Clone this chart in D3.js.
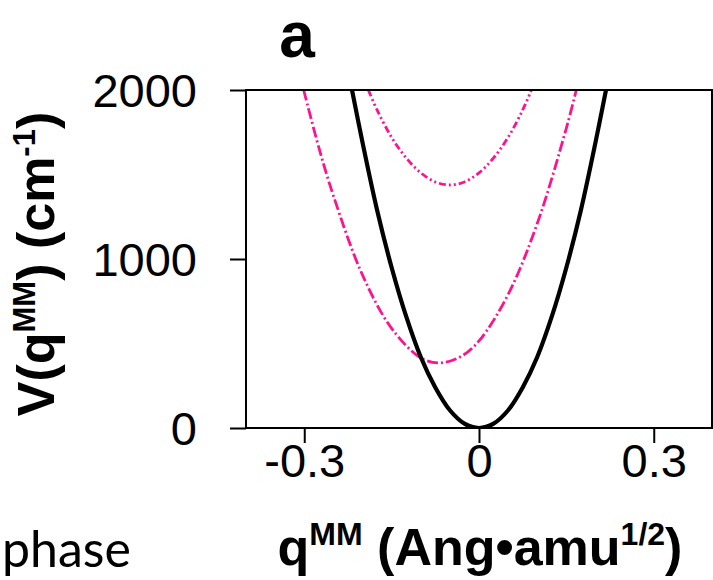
<!DOCTYPE html>
<html lang="en">
<head>
<meta charset="UTF-8">
<script src="https://cdn.jsdelivr.net/npm/d3@7"></script>
<style>
  body { margin: 0; background: #fff; }
  svg { display: block; }
</style>
</head>
<body>
<script>
// curve samples
var blackQ = [-0.218, -0.2, -0.175, -0.15, -0.125, -0.1, -0.075, -0.05, -0.025, 0, 0.025, 0.05, 0.075, 0.1, 0.125, 0.15, 0.175, 0.2, 0.218];
var blackV = [2000, 1690, 1290, 950, 660, 420, 240, 105, 26, 0, 26, 105, 240, 420, 660, 950, 1290, 1690, 2000];

var lowQ = [-0.301, -0.275, -0.25, -0.2, -0.15, -0.1, -0.067, -0.03, 0, 0.05, 0.1, 0.15, 0.167];
var lowV = [2000, 1660, 1375, 905, 590, 415, 385, 425, 515, 790, 1210, 1775, 2000];

var highQ = [-0.19, -0.175, -0.15, -0.125, -0.1, -0.075, -0.05, -0.025, 0, 0.025, 0.05, 0.075, 0.09];
var highV = [2000, 1882, 1720, 1598, 1510, 1456, 1438, 1456, 1510, 1598, 1720, 1882, 2000];

var xTicks = [-0.3, 0, 0.3];
var xTickLabels = ["-0.3", "0", "0.3"];
var yTicks = [0, 1000, 2000];

var W = 713, H = 580;
var svg = d3.select("body").append("svg")
    .attr("width", W)
    .attr("height", H);

var x = d3.scaleLinear().domain([-0.4, 0.4]).range([246, 712]);
var y = d3.scaleLinear().domain([0, 2000]).range([428, 90]);

svg.append("clipPath").attr("id", "plot")
  .append("rect")
    .attr("x", 246).attr("y", 90)
    .attr("width", 466).attr("height", 338);

var line = d3.line()
    .x(function(d){ return x(d[0]); })
    .y(function(d){ return y(d[1]); })
    .curve(d3.curveCatmullRom);

function pairs(q, v) { return q.map(function(d, i){ return [d, v[i]]; }); }

var pink = "#ff138c";
var g = svg.append("g").attr("clip-path", "url(#plot)");

g.append("path")
    .attr("d", line(pairs(highQ, highV)))
    .attr("fill", "none")
    .attr("stroke", pink)
    .attr("stroke-width", 2.8)
    .attr("stroke-dasharray", "7,3,2,3,2,3");

g.append("path")
    .attr("d", line(pairs(lowQ, lowV)))
    .attr("fill", "none")
    .attr("stroke", pink)
    .attr("stroke-width", 2.8)
    .attr("stroke-dasharray", "11,3,2,3");

g.append("path")
    .attr("d", line(pairs(blackQ, blackV)))
    .attr("fill", "none")
    .attr("stroke", "#000")
    .attr("stroke-width", 4.2);

// frame
svg.append("rect")
    .attr("x", 246).attr("y", 90)
    .attr("width", 466).attr("height", 338)
    .attr("fill", "none")
    .attr("stroke", "#000")
    .attr("stroke-width", 2);

var yAxis = d3.axisLeft(y)
    .tickValues(yTicks)
    .tickFormat(d3.format("d"))
    .tickSize(16)
    .tickPadding(33);

var xAxis = d3.axisBottom(x)
    .tickValues(xTicks)
    .tickFormat(function(d, i){ return xTickLabels[i]; })
    .tickSize(15)
    .tickPadding(34);

var ya = svg.append("g").attr("transform", "translate(246,0)").call(yAxis);
var xa = svg.append("g").attr("transform", "translate(0,428)").call(xAxis);

[ya, xa].forEach(function(a){
  a.select(".domain").remove();
  a.selectAll("line").attr("stroke", "#000").attr("stroke-width", 2);
  a.selectAll("text")
    .attr("fill", "#000")
    .style("font-family", "'Liberation Sans', Arial, sans-serif")
    .style("font-size", "47px");
});
ya.selectAll("text").attr("dy", "0.36em");
xa.selectAll("text").attr("dy", "0");

var bold = "'Liberation Sans', Arial, sans-serif";

// panel letter
svg.append("text")
    .attr("x", 297).attr("y", 57)
    .attr("text-anchor", "middle")
    .style("font-family", bold)
    .style("font-weight", "bold")
    .style("font-size", "64px")
    .text("a");

// y title
var yt = svg.append("text")
    .attr("transform", "translate(54,264) rotate(-90)")
    .attr("text-anchor", "middle")
    .style("font-family", bold)
    .style("font-weight", "bold")
    .style("font-size", "52px");
yt.append("tspan").text("V(q");
yt.append("tspan").attr("dy", -19).style("font-size", "31px").text("MM");
yt.append("tspan").attr("dy", 19).text(") (cm");
yt.append("tspan").attr("dy", -19).style("font-size", "31px").text("-1");
yt.append("tspan").attr("dy", 19).text(")");

// x title
var xt = svg.append("text")
    .attr("x", 480).attr("y", 565)
    .attr("text-anchor", "middle")
    .style("font-family", bold)
    .style("font-weight", "bold")
    .style("font-size", "52px");
xt.append("tspan").text("q");
xt.append("tspan").attr("dy", -20).style("font-size", "32px").text("MM");
xt.append("tspan").attr("dy", 20).text(" (Ang\u2022amu");
xt.append("tspan").attr("dy", -20).style("font-size", "32px").text("1/2");
xt.append("tspan").attr("dy", 20).text(")");

// stray caption fragment at the lower left
svg.append("text")
    .attr("x", 2).attr("y", 567)
    .style("font-family", "Lato, 'Open Sans', sans-serif")
    .style("font-size", "50px")
    .text("phase");
</script>
</body>
</html>
